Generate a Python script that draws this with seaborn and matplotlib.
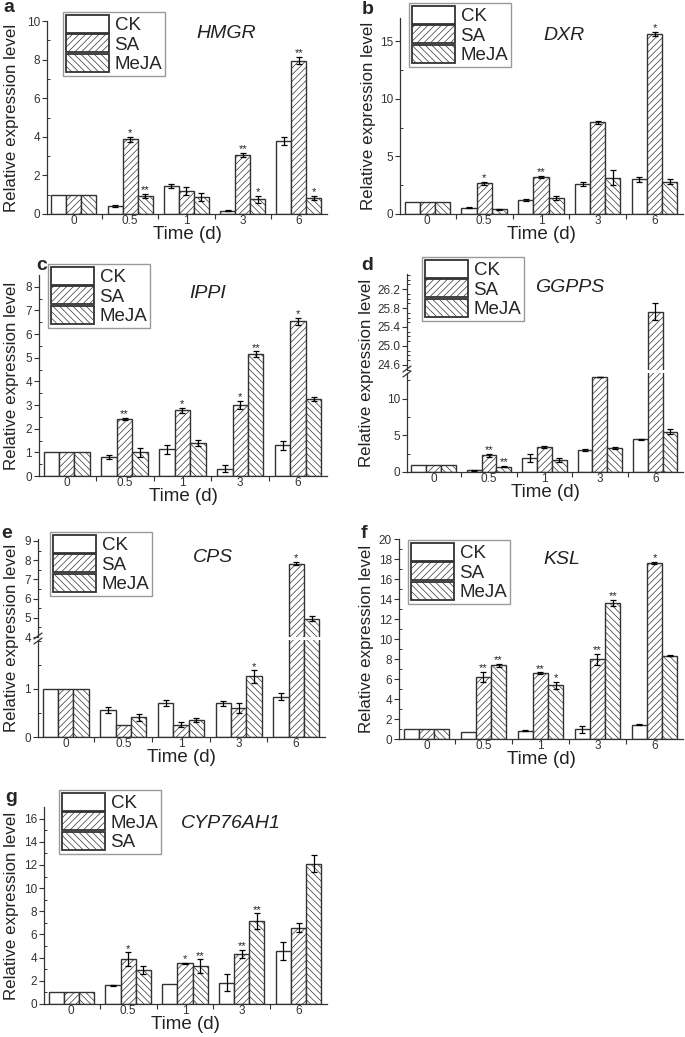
import numpy as np
import pandas as pd
import matplotlib
matplotlib.use("Agg")
import matplotlib.pyplot as plt
import seaborn as sns
from matplotlib.patches import Patch
from matplotlib.lines import Line2D
from matplotlib.ticker import FormatStrFormatter

# categories
times = ["0", "0.5", "1", "3", "6"]
groups_std = ["CK", "SA", "MeJA"]
groups_g = ["CK", "MeJA", "SA"]

# a  HMGR
hmgr_ck = [1, 0.42, 1.45, 0.18, 3.77]
hmgr_ck_err = [0, 0.05, 0.12, 0.04, 0.22]
hmgr_sa = [1, 3.87, 1.18, 3.07, 7.95]
hmgr_sa_err = [0, 0.12, 0.2, 0.1, 0.18]
hmgr_meja = [1, 0.95, 0.88, 0.77, 0.82]
hmgr_meja_err = [0, 0.1, 0.22, 0.18, 0.12]
hmgr_sa_sig = ["", "*", "", "**", "**"]
hmgr_meja_sig = ["", "**", "", "*", "*"]

# b  DXR
dxr_ck = [1, 0.55, 1.22, 2.6, 3.0]
dxr_ck_err = [0, 0.05, 0.05, 0.15, 0.2]
dxr_sa = [1, 2.65, 3.2, 7.95, 15.6]
dxr_sa_err = [0, 0.15, 0.08, 0.15, 0.2]
dxr_meja = [1, 0.4, 1.38, 3.15, 2.8]
dxr_meja_err = [0, 0.02, 0.2, 0.65, 0.2]
dxr_sa_sig = ["", "*", "**", "", "*"]
dxr_meja_sig = ["", "", "", "", ""]

# c  IPPI
ippi_ck = [1, 0.8, 1.13, 0.3, 1.3]
ippi_ck_err = [0, 0.1, 0.18, 0.15, 0.18]
ippi_sa = [1, 2.4, 2.77, 3.0, 6.55]
ippi_sa_err = [0, 0.05, 0.12, 0.17, 0.15]
ippi_meja = [1, 1.0, 1.4, 5.15, 3.25]
ippi_meja_err = [0, 0.2, 0.13, 0.12, 0.08]
ippi_sa_sig = ["", "**", "*", "*", "*"]
ippi_meja_sig = ["", "", "", "**", ""]

# d  GGPPS
ggpps_ck = [1, 0.25, 1.95, 3.0, 4.45]
ggpps_ck_err = [0, 0.05, 0.55, 0.15, 0.08]
ggpps_sa = [1, 2.3, 3.4, 12.95, 25.72]
ggpps_sa_err = [0, 0.2, 0.08, 0.05, 0.18]
ggpps_meja = [1, 0.75, 1.6, 3.3, 5.5]
ggpps_meja_err = [0, 0.05, 0.3, 0.1, 0.3]
ggpps_sa_sig = ["", "**", "", "", ""]
ggpps_meja_sig = ["", "**", "", "", ""]

# e  CPS
cps_ck = [1, 0.57, 0.71, 0.7, 0.84]
cps_ck_err = [0, 0.06, 0.07, 0.06, 0.07]
cps_sa = [1, 0.25, 0.26, 0.6, 7.82]
cps_sa_err = [0, 0, 0.06, 0.11, 0.08]
cps_meja = [1, 0.41, 0.35, 1.26, 4.95]
cps_meja_err = [0, 0.07, 0.04, 0.13, 0.12]
cps_sa_sig = ["", "", "", "", "*"]
cps_meja_sig = ["", "", "", "*", ""]

# f  KSL
ksl_ck = [1, 0.75, 0.85, 1.0, 1.45]
ksl_ck_err = [0, 0, 0.05, 0.35, 0.08]
ksl_sa = [1, 6.25, 6.6, 8.0, 17.6]
ksl_sa_err = [0, 0.5, 0.08, 0.55, 0.12]
ksl_meja = [1, 7.4, 5.4, 13.6, 8.35]
ksl_meja_err = [0, 0.15, 0.35, 0.3, 0.05]
ksl_sa_sig = ["", "**", "**", "**", "*"]
ksl_meja_sig = ["", "**", "*", "**", ""]

# g  CYP76AH1 (legend order CK, MeJA, SA)
cyp_ck = [1, 1.6, 1.7, 1.85, 4.55]
cyp_ck_err = [0, 0.03, 0, 0.7, 0.78]
cyp_meja = [1, 3.85, 3.5, 4.3, 6.6]
cyp_meja_err = [0, 0.6, 0.05, 0.35, 0.4]
cyp_sa = [1, 2.9, 3.25, 7.15, 12.1]
cyp_sa_err = [0, 0.35, 0.6, 0.68, 0.72]
cyp_meja_sig = ["", "*", "*", "**", ""]
cyp_sa_sig = ["", "", "**", "**", ""]

sns.set_style("ticks")
plt.rcParams["font.family"] = ["Liberation Sans", "DejaVu Sans"]
plt.rcParams["hatch.linewidth"] = 0.5
plt.rcParams["axes.linewidth"] = 0.9
plt.rcParams["axes.edgecolor"] = "#333333"

hatches = ["", "/////", "\\\\\\\\\\"]
EDGE = "#333333"
W, H = 685, 1037
fig = plt.figure(figsize=(W / 100, H / 100), dpi=100)


def rect(l, t, r, b):
    return [l / W, 1 - b / H, (r - l) / W, (b - t) / H]


def draw_bars(ax, names, series, errors, sigs):
    rows = []
    for name, vals in zip(names, series):
        for t, v in zip(times, vals):
            rows.append({"time": t, "value": v, "group": name})
    df = pd.DataFrame(rows)
    sns.barplot(data=df, x="time", y="value", hue="group", order=times,
                hue_order=names, palette=["white"] * 3, saturation=1,
                edgecolor=EDGE, linewidth=1.0, errorbar=None, legend=False,
                width=0.8, ax=ax)
    for cont, hatch, vals, errs, sig in zip(ax.containers, hatches, series, errors, sigs):
        xs = []
        for b in cont:
            b.set_hatch(hatch)
            xs.append(b.get_x() + b.get_width() / 2)
        xs = np.array(xs)
        vals = np.array(vals, dtype=float)
        errs = np.array(errs, dtype=float)
        m = errs > 0
        ax.errorbar(xs[m], vals[m], yerr=errs[m], fmt="none", ecolor="black",
                    elinewidth=0.9, capsize=2.3, capthick=0.9)
        for x, v, e, s in zip(xs, vals, errs, sig):
            if s:
                ax.annotate(s, (x, v + e), xytext=(0, -1), textcoords="offset points",
                            ha="center", va="bottom", fontsize=8, color="#222222")
    ax.set_xlabel("")
    ax.set_ylabel("")


def style(ax, ylim, major, minor, fmt=None, show_x=True):
    ax.set_xlim(-0.48, 4.5)
    ax.set_ylim(*ylim)
    ax.set_yticks(major)
    ax.set_yticks(minor, minor=True)
    if fmt:
        ax.yaxis.set_major_formatter(FormatStrFormatter(fmt))
    ax.tick_params(axis="y", which="major", direction="out", length=3.5, width=0.8,
                   labelsize=8.5, pad=1.5, colors="#333333")
    ax.tick_params(axis="y", which="minor", direction="in", length=2, width=0.7,
                   colors="#333333")
    sns.despine(ax=ax)
    if show_x:
        ax.set_xticks(range(len(times)))
        ax.set_xticklabels(times)
        ax.set_xticks([0.5, 1.5, 2.5, 3.5], minor=True)
        ax.tick_params(axis="x", which="major", length=0, labelsize=8.5, pad=0.5,
                       colors="#333333")
        ax.tick_params(axis="x", which="minor", direction="out", length=3.5,
                       width=0.8, colors="#333333")
    else:
        ax.spines["bottom"].set_visible(False)
        ax.set_xticks([])
        ax.set_xticks([], minor=True)


def legend(names, x, y):
    handles = [Patch(facecolor="white", edgecolor=EDGE, linewidth=1.3, hatch=h)
               for h in hatches]
    fig.legend(handles, names, loc="upper left", bbox_to_anchor=(x / W, 1 - y / H),
               frameon=True, fancybox=False, edgecolor="#999999", framealpha=1,
               fontsize=13.5, handlelength=2.3, handleheight=1.1, labelspacing=0.0,
               borderpad=0.15, handletextpad=0.3, borderaxespad=0)


def labels(letter, lx, ly, gene, gx, gy, yx, l, r, t, b):
    fig.text(lx / W, 1 - ly / H, letter, fontsize=14, fontweight="bold",
             ha="center", va="center", zorder=10)
    fig.text(gx / W, 1 - gy / H, gene, fontsize=14, style="italic",
             ha="center", va="center", color="#222222")
    fig.text(yx / W, 1 - (t + b) / 2 / H, "Relative expression level", rotation=90,
             fontsize=12.2, ha="center", va="center", color="#222222")
    fig.text((l + r) / 2 / W, 1 - (b + 12) / H, "Time (d)", fontsize=13.5,
             ha="center", va="top", color="#222222")


def break_marks(x, y):
    for dy in (-2.5, 2.5):
        fig.add_artist(Line2D([(x - 4) / W, (x + 4) / W],
                              [1 - (y + dy + 3) / H, 1 - (y + dy - 3) / H],
                              color=EDGE, lw=0.9))


# a
ax = fig.add_axes(rect(47, 21, 327, 214))
draw_bars(ax, groups_std, [hmgr_ck, hmgr_sa, hmgr_meja],
          [hmgr_ck_err, hmgr_sa_err, hmgr_meja_err], [[""] * 5, hmgr_sa_sig, hmgr_meja_sig])
style(ax, (0, 10), np.arange(0, 11, 2), np.arange(1, 10, 2))
legend(groups_std, 63, 12)
labels("a", 9, 8, "HMGR", 226, 33, 12, 47, 327, 21, 214)

# b
ax = fig.add_axes(rect(400, 18, 683, 214))
draw_bars(ax, groups_std, [dxr_ck, dxr_sa, dxr_meja],
          [dxr_ck_err, dxr_sa_err, dxr_meja_err], [[""] * 5, dxr_sa_sig, dxr_meja_sig])
style(ax, (0, 17), [0, 5, 10, 15], [2.5, 7.5, 12.5])
legend(groups_std, 409, 3)
labels("b", 368, 9, "DXR", 564, 36, 368, 400, 683, 18, 214)

# c
ax = fig.add_axes(rect(39, 275, 327, 476))
draw_bars(ax, groups_std, [ippi_ck, ippi_sa, ippi_meja],
          [ippi_ck_err, ippi_sa_err, ippi_meja_err], [[""] * 5, ippi_sa_sig, ippi_meja_sig])
style(ax, (0, 8.5), np.arange(0, 9, 1), np.arange(0.5, 8.5, 1))
legend(groups_std, 48, 264)
labels("c", 42, 265, "IPPI", 208, 293, 12, 39, 327, 275, 476)

# d (broken axis)
ax_lo = fig.add_axes(rect(407, 373, 683, 472))
ax_hi = fig.add_axes(rect(407, 274, 683, 370))
for a_ in (ax_lo, ax_hi):
    draw_bars(a_, groups_std, [ggpps_ck, ggpps_sa, ggpps_meja],
              [ggpps_ck_err, ggpps_sa_err, ggpps_meja_err],
              [[""] * 5, ggpps_sa_sig, ggpps_meja_sig])
style(ax_lo, (0, 13.5), [0, 5, 10], [2.5, 7.5, 12.5])
style(ax_hi, (24.49, 26.52), np.arange(24.6, 26.3, 0.4), np.arange(24.5, 26.55, 0.1),
      fmt="%.1f", show_x=False)
break_marks(407, 371.5)
legend(groups_std, 422, 257)
labels("d", 367, 266, "GGPPS", 570, 287, 367, 407, 683, 274, 472)

# e (broken axis)
ax_lo = fig.add_axes(rect(38, 640, 325, 737))
ax_hi = fig.add_axes(rect(38, 539, 325, 637))
for a_ in (ax_lo, ax_hi):
    draw_bars(a_, groups_std, [cps_ck, cps_sa, cps_meja],
              [cps_ck_err, cps_sa_err, cps_meja_err], [[""] * 5, cps_sa_sig, cps_meja_sig])
style(ax_lo, (0, 2.02), [0, 1], [0.5, 1.5, 2.0])
style(ax_hi, (4.0, 9.1), np.arange(4, 10, 1), np.arange(4.5, 9.1, 0.5), show_x=False)
break_marks(38, 638.5)
legend(groups_std, 50, 532)
labels("e", 7, 533, "CPS", 213, 557, 12, 38, 325, 539, 737)

# f
ax = fig.add_axes(rect(399, 539, 683, 739))
draw_bars(ax, groups_std, [ksl_ck, ksl_sa, ksl_meja],
          [ksl_ck_err, ksl_sa_err, ksl_meja_err], [[""] * 5, ksl_sa_sig, ksl_meja_sig])
style(ax, (0, 20), np.arange(0, 21, 2), np.arange(1, 20, 2))
legend(groups_std, 408, 540)
labels("f", 364, 533, "KSL", 562, 560, 367, 399, 683, 539, 739)

# g
ax = fig.add_axes(rect(44, 807, 327, 1004))
draw_bars(ax, groups_g, [cyp_ck, cyp_meja, cyp_sa],
          [cyp_ck_err, cyp_meja_err, cyp_sa_err], [[""] * 5, cyp_meja_sig, cyp_sa_sig])
style(ax, (0, 17), np.arange(0, 17, 2), np.arange(1, 17, 2))
legend(groups_g, 59, 790)
labels("g", 11, 797, "CYP76AH1", 231, 823, 12, 44, 327, 807, 1004)

fig.savefig("out.png", dpi=100)
